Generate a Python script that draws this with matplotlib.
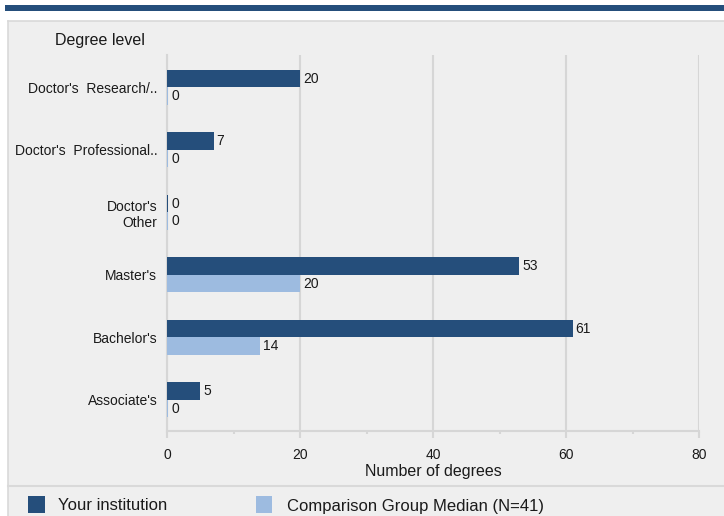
import matplotlib
matplotlib.use("Agg")
import matplotlib.pyplot as plt
from matplotlib.patches import Rectangle
from matplotlib.lines import Line2D
import numpy as np

plt.rcParams['font.family'] = ['Liberation Sans', 'DejaVu Sans']

categories = ["Doctor's  Research/..", "Doctor's  Professional..", "Doctor's\nOther",
              "Master's", "Bachelor's", "Associate's"]
institution = [20, 7, 0, 53, 61, 5]
comparison = [0, 0, 0, 20, 14, 0]
series_names = ["Your institution", "Comparison Group Median (N=41)"]
xticks = [0, 20, 40, 60, 80]

DARK = "#254e7b"
LIGHT = "#9dbbe0"
PANEL = "#efefef"
GRID = "#d6d6d6"
TXT = "#1a1a1a"

W, H = 724, 516
fig = plt.figure(figsize=(W / 100, H / 100), dpi=100)
fig.patch.set_facecolor("white")

def fx(px):
    return px / W

def fy(py):
    return 1 - py / H

# panel background and decorations
fig.add_artist(Rectangle((fx(8), 0), 1 - fx(8), fy(21), transform=fig.transFigure,
                         facecolor=PANEL, edgecolor="none", zorder=-10))
fig.add_artist(Line2D([fx(8), 1], [fy(21), fy(21)], color="#d9d9d9", lw=1.2, zorder=-5))
fig.add_artist(Line2D([fx(8), fx(8)], [0, fy(21)], color="#d9d9d9", lw=1.2, zorder=-5))
fig.add_artist(Line2D([fx(8), 1], [fy(486), fy(486)], color="#d9d9d9", lw=1.5, zorder=-5))
fig.add_artist(Rectangle((fx(5), fy(11)), 1 - fx(5), 6 / H, transform=fig.transFigure,
                         facecolor=DARK, edgecolor="none", zorder=-5))

ax = fig.add_axes([fx(167), fy(431), fx(699) - fx(167), fy(55) - fy(431)])
ax.set_facecolor(PANEL)

y = np.arange(len(categories))
h = 0.28
inst_w = [v if v > 0 else 0.2 for v in institution]
comp_w = [v if v > 0 else 0.2 for v in comparison]
ax.barh(y - h / 2, inst_w, height=h, color=DARK, zorder=3)
ax.barh(y + h / 2, comp_w, height=h, color=LIGHT, zorder=3)
for yi, v in zip(y, institution):
    ax.text(max(v, 0.2) + 0.45, yi - h / 2, str(v), va="center", ha="left", fontsize=10, color=TXT, zorder=4)
for yi, v in zip(y, comparison):
    ax.text(max(v, 0.2) + 0.45, yi + h / 2, str(v), va="center", ha="left", fontsize=10, color=TXT, zorder=4)

ax.set_xlim(0, 80)
ax.set_ylim(5.5, -0.52)
ax.set_yticks(y)
ax.set_yticklabels(categories, fontsize=10, color=TXT)
ax.tick_params(axis="y", length=0, pad=7)
ax.set_xticks(xticks)
ax.set_xticks([10, 30, 50, 70], minor=True)
ax.set_xticklabels([str(t) for t in xticks], fontsize=10, color=TXT)
ax.tick_params(axis="x", which="major", length=5, width=1.5, color=GRID, pad=7)
ax.tick_params(axis="x", which="minor", length=2.5, width=1.5, color=GRID)
ax.grid(axis="x", which="major", color=GRID, lw=1.5, zorder=0)
for s in ["top", "right"]:
    ax.spines[s].set_visible(False)
ax.spines["left"].set_color(GRID)
ax.spines["left"].set_linewidth(1.5)
ax.spines["bottom"].set_color(GRID)
ax.spines["bottom"].set_linewidth(1.5)
ax.set_xlabel("Number of degrees", fontsize=11.5, color=TXT, labelpad=2)

fig.text(fx(55), fy(40), "Degree level", fontsize=11.5, va="center", ha="left", color=TXT)

# legend
fig.add_artist(Rectangle((fx(28), fy(513)), 17 / W, 17 / H, transform=fig.transFigure,
                         facecolor=DARK, edgecolor="none"))
fig.text(fx(58), fy(506), series_names[0], fontsize=12, va="center", ha="left", color=TXT)
fig.add_artist(Rectangle((fx(256), fy(513)), 16 / W, 17 / H, transform=fig.transFigure,
                         facecolor=LIGHT, edgecolor="none"))
fig.text(fx(287), fy(506), series_names[1], fontsize=12, va="center", ha="left", color=TXT)

fig.savefig("out.png", dpi=100, facecolor=fig.get_facecolor())
